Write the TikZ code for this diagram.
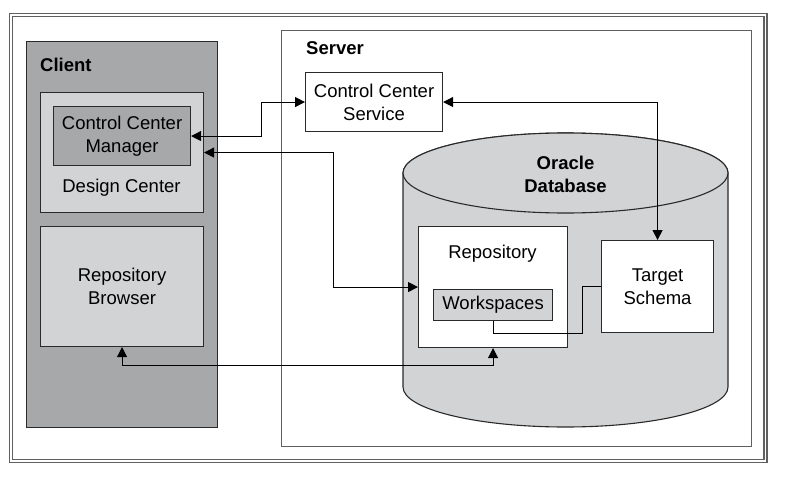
\documentclass[tikz,border=0pt]{standalone}
\usepackage{fontspec}
\setmainfont{Liberation Sans}
\usetikzlibrary{arrows.meta}
\definecolor{darkfill}{HTML}{A7A8AA}
\definecolor{lightfill}{HTML}{D2D3D5}
\definecolor{framegray}{HTML}{606060}
\definecolor{edge}{HTML}{2A2A2A}
\tikzset{
  box/.style={draw=edge, line width=1.1pt, anchor=north west, inner sep=0pt, align=center,
              font=\fontsize{18.5}{23}\selectfont},
  txt/.style={inner sep=0pt, align=center, font=\fontsize{18.5}{23}\selectfont},
  btxt/.style={inner sep=0pt, align=center, font=\fontsize{18.5}{23}\selectfont\bfseries},
  arr/.style={line width=1pt, {Triangle[length=10pt,width=10pt]}-{Triangle[length=10pt,width=10pt]}},
  link/.style={line width=1pt}
}
\begin{document}
\begin{tikzpicture}[x=1pt,y=-1pt]
\useasboundingbox (0,0) rectangle (794,492);
% outer double frame
\draw[framegray, line width=1.2pt] (9.5,13.5) rectangle (767,462.5);
\draw[framegray, line width=1.2pt] (12.5,16.5) rectangle (764,459.5);
% client
\node[box, fill=darkfill, minimum width=191pt, minimum height=386pt] (client) at (26,41) {};
\node[btxt, anchor=west] (clientlbl) at (40,64.5) {Client};
\node[box, fill=lightfill, minimum width=163pt, minimum height=120pt] (dc) at (40,92) {};
\node[box, fill=darkfill, minimum width=137pt, minimum height=59pt] (ccm) at (53,106) {Control Center\\Manager};
\node[txt] (dclbl) at (121.5,188) {Design Center};
\node[box, fill=lightfill, minimum width=163pt, minimum height=120pt] (rb) at (40,226) {Repository\\Browser};
% server
\node[box, draw=framegray, fill=white, minimum width=470pt, minimum height=416pt] (server) at (281,30) {};
\node[btxt, anchor=west] (serverlbl) at (306,48.5) {Server};
\node[box, fill=white, minimum width=137pt, minimum height=59pt] (ccs) at (305,72) {Control Center\\Service};
% cylinder
\path[draw=edge, line width=1.1pt, fill=lightfill]
  (403,173) -- (403,387) arc[start angle=180, end angle=360, x radius=162.5pt, y radius=40pt]
  -- (728,173) arc[start angle=0, end angle=180, x radius=162.5pt, y radius=40pt] -- cycle;
\draw[edge, line width=1.1pt, fill=lightfill] (565.5,173) ellipse[x radius=162.5pt, y radius=40pt];
\node[btxt] (db) at (565.5,174) {Oracle\\Database};
% repository
\node[box, fill=white, minimum width=149pt, minimum height=121pt] (repo) at (418,226) {};
\node[txt] (repolbl) at (492.5,254) {Repository};
\node[box, fill=lightfill, minimum width=119pt, minimum height=31pt] (ws) at (433,289) {Workspaces};
\node[box, fill=white, minimum width=112pt, minimum height=92pt] (ts) at (601,240) {Target\\Schema};
% connectors
\draw[arr] (ccm.east) -- ++(70,0) |- (ccs.west);
\draw[arr] (dc.east) -- ++(129,0) |- (repo.west);
\draw[arr] (ccs.east) -| (ts.north);
\draw[arr] (rb.south) -- ++(0,18) -| (repo.south);
\coordinate (wsbend) at (582,333.5);
\draw[link] (ws.south) |- (wsbend) |- (ts.west);
\end{tikzpicture}
\end{document}
